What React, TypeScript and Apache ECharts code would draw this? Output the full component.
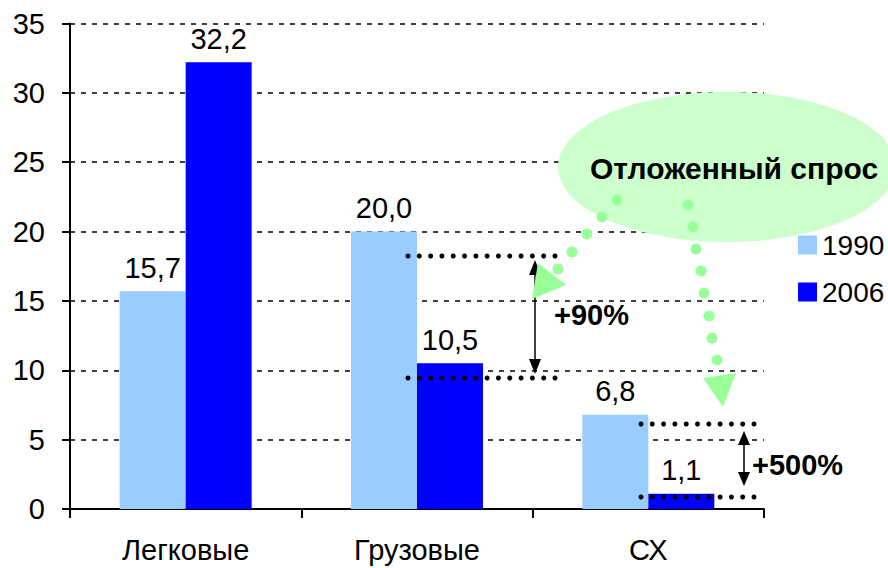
import React, { useEffect, useRef } from "react";
import * as echarts from "echarts";

const categories = ["Легковые", "Грузовые", "СХ"];
const series1990 = [15.7, 20.0, 6.8];
const series2006 = [32.2, 10.5, 1.1];
const seriesNames = ["1990", "2006"];
const calloutText = "Отложенный спрос";
const change1 = "+90%";
const change2 = "+500%";

const FONT = "'Liberation Sans', Arial, sans-serif";

function dottedRow(x0: number, x1: number, y: number, n: number) {
  const out: any[] = [];
  const step = (x1 - x0) / (n - 1);
  for (let i = 0; i < n; i++) {
    out.push({
      type: "circle",
      z: 110,
      shape: { cx: x0 + i * step, cy: y, r: 2.5 },
      style: { fill: "#000" },
    });
  }
  return out;
}

function greenDots(pts: number[][]) {
  return pts.map((p) => ({
    type: "circle",
    z: 120,
    shape: { cx: p[0], cy: p[1], r: 5.5 },
    style: { fill: "#99FF99" },
  }));
}

function doubleArrow(x: number, yTop: number, yBot: number, head: number) {
  return [
    {
      type: "line",
      z: 110,
      shape: { x1: x, y1: yTop + head - 2, x2: x, y2: yBot - head + 2 },
      style: { stroke: "#000", lineWidth: 1.5 },
    },
    {
      type: "polygon",
      z: 110,
      shape: { points: [[x, yTop], [x - 6, yTop + head], [x + 6, yTop + head]] },
      style: { fill: "#000" },
    },
    {
      type: "polygon",
      z: 110,
      shape: { points: [[x, yBot], [x - 6, yBot - head], [x + 6, yBot - head]] },
      style: { fill: "#000" },
    },
  ];
}

export default function App() {
  const ref = useRef<HTMLDivElement>(null);
  useEffect(() => {
    if (!ref.current) return;
    const chart = echarts.init(ref.current, undefined, { renderer: "svg" });
    const fmt = (p: any) => Number(p.value).toFixed(1).replace(".", ",");
    const graphic: any[] = [
      {
        type: "ellipse",
        z: 100,
        shape: { cx: 727, cy: 167, rx: 169, ry: 75 },
        style: { fill: "#CCFFCC" },
      },
      {
        type: "text",
        z: 130,
        x: 734,
        y: 168,
        style: {
          text: calloutText,
          font: `bold 30px ${FONT}`,
          fill: "#000",
          align: "center",
          verticalAlign: "middle",
        },
      },
      ...greenDots([
        [617, 200],
        [602, 217],
        [587, 234],
        [572, 252],
        [558, 269],
      ]),
      {
        type: "polygon",
        z: 120,
        shape: { points: [[538, 263], [566, 285], [532, 299]] },
        style: { fill: "#99FF99" },
      },
      ...greenDots([
        [688, 205],
        [693, 227],
        [696, 249],
        [701, 271],
        [704, 293],
        [709, 316],
        [712, 338],
        [717, 360],
      ]),
      {
        type: "polygon",
        z: 120,
        shape: { points: [[703, 378], [736, 373], [723, 407]] },
        style: { fill: "#99FF99" },
      },
      ...dottedRow(408, 555, 256, 14),
      ...dottedRow(408, 555, 378, 14),
      ...dottedRow(641, 754, 424, 11),
      ...dottedRow(641, 754, 497, 11),
      ...doubleArrow(535, 260, 374, 15),
      ...doubleArrow(744, 431, 486, 14),
      {
        type: "text",
        z: 130,
        x: 554,
        y: 315,
        style: {
          text: change1,
          font: `bold 29px ${FONT}`,
          fill: "#000",
          align: "left",
          verticalAlign: "middle",
        },
      },
      {
        type: "text",
        z: 130,
        x: 752,
        y: 465,
        style: {
          text: change2,
          font: `bold 29px ${FONT}`,
          fill: "#000",
          align: "left",
          verticalAlign: "middle",
        },
      },
    ];
    chart.setOption({
      animation: false,
      backgroundColor: "#fff",
      textStyle: { fontFamily: FONT },
      grid: { left: 70, right: 124, top: 23.5, bottom: 59, containLabel: false },
      legend: {
        orient: "vertical",
        left: 793,
        top: 226,
        itemWidth: 19,
        itemHeight: 19,
        itemGap: 19,
        icon: "rect",
        data: seriesNames,
        textStyle: { fontSize: 28, color: "#000", fontFamily: FONT },
      },
      xAxis: {
        type: "category",
        data: categories,
        axisLine: { lineStyle: { color: "#000", width: 2 } },
        axisTick: { show: true, length: 9, lineStyle: { color: "#000", width: 2 } },
        axisLabel: { fontSize: 29, color: "#000", margin: 26, fontFamily: FONT },
      },
      yAxis: {
        type: "value",
        min: 0,
        max: 35,
        interval: 5,
        axisLine: { show: true, lineStyle: { color: "#000", width: 2 } },
        axisTick: { show: true, length: 8, lineStyle: { color: "#000", width: 2 } },
        axisLabel: { fontSize: 29, color: "#000", margin: 25, fontFamily: FONT },
        splitLine: {
          show: true,
          lineStyle: { color: "#000", type: [5, 6], width: 1.5 },
        },
      },
      series: [
        {
          name: seriesNames[0],
          type: "bar",
          data: series1990,
          barWidth: 66,
          barGap: "0%",
          itemStyle: { color: "#99CCFF" },
          label: {
            show: true,
            position: "top",
            distance: 9,
            formatter: fmt,
            fontSize: 29,
            color: "#000",
            fontFamily: FONT,
          },
        },
        {
          name: seriesNames[1],
          type: "bar",
          data: series2006,
          barWidth: 66,
          barGap: "0%",
          itemStyle: { color: "#0000FF" },
          label: {
            show: true,
            position: "top",
            distance: 9,
            formatter: fmt,
            fontSize: 29,
            color: "#000",
            fontFamily: FONT,
          },
        },
      ],
      graphic,
    });
    return () => chart.dispose();
  }, []);
  return (
    <div
      ref={ref}
      style={{ width: 888, height: 568, position: "absolute", left: 0, top: 0 }}
    />
  );
}
